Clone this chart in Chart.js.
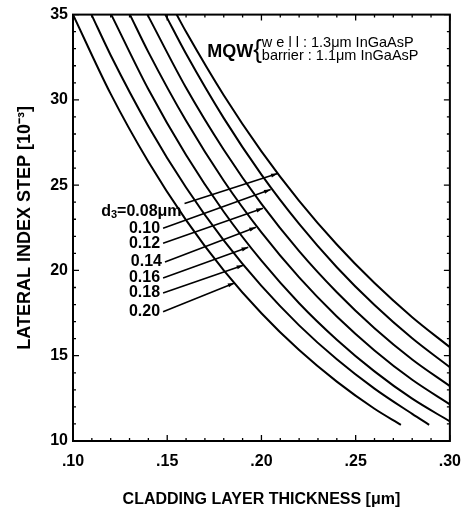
<!DOCTYPE html>
<html>
<head>
<meta charset="utf-8">
<script src="https://cdn.jsdelivr.net/npm/chart.js@4.4.1/dist/chart.umd.min.js"></script>
<style>
  html, body { margin: 0; padding: 0; background: #fff; }
  canvas { display: block; }
</style>
</head>
<body>
<canvas id="chart" width="472" height="510"></canvas>
<script>
// points: [cladding thickness (um), lateral index step (1e-3)]
const d020 = [[0.100, 35], [0.12, 30.35], [0.14, 26.37], [0.16, 22.95], [0.18, 20.01], [0.20, 17.49], [0.22, 15.33], [0.24, 13.48], [0.26, 11.89], [0.274, 10.95]];
const d018 = [[0.1098, 35], [0.12, 32.62], [0.14, 28.46], [0.16, 24.86], [0.18, 21.76], [0.20, 19.09], [0.22, 16.78], [0.24, 14.79], [0.26, 13.07], [0.28, 11.59], [0.289, 10.95]];
const d016 = [[0.1203, 35], [0.14, 30.62], [0.16, 26.77], [0.18, 23.44], [0.20, 20.57], [0.22, 18.08], [0.24, 15.94], [0.26, 14.08], [0.28, 12.48], [0.30, 11.15]];
const d014 = [[0.1302, 35], [0.14, 32.8], [0.16, 28.77], [0.18, 25.26], [0.20, 22.23], [0.22, 19.59], [0.24, 17.30], [0.26, 15.31], [0.28, 13.59], [0.30, 12.15]];
const d012 = [[0.1395, 35], [0.16, 30.71], [0.18, 27.08], [0.20, 23.90], [0.22, 21.13], [0.24, 18.72], [0.26, 16.61], [0.28, 14.78], [0.30, 13.22]];
const d010 = [[0.149, 35], [0.16, 32.7], [0.18, 28.93], [0.20, 25.62], [0.22, 22.73], [0.24, 20.19], [0.26, 17.97], [0.28, 16.02], [0.30, 14.32]];
const d008 = [[0.155, 35], [0.16, 33.99], [0.18, 30.27], [0.20, 26.98], [0.22, 24.08], [0.24, 21.52], [0.26, 19.26], [0.28, 17.26], [0.30, 15.5]];

const curves = [d008, d010, d012, d014, d016, d018, d020];
const labels = ['0.08', '0.10', '0.12', '0.14', '0.16', '0.18', '0.20'];

// leader lines: from the label to the point on its curve
const leaders = [
  [[0.1592, 23.93], [0.2086, 25.68]],
  [[0.1478, 22.47], [0.2049, 24.74]],
  [[0.1478, 21.60], [0.2008, 23.64]],
  [[0.1488, 20.49], [0.1971, 22.53]],
  [[0.1478, 19.56], [0.1930, 21.36]],
  [[0.1478, 18.68], [0.1904, 20.31]],
  [[0.1478, 17.58], [0.1857, 19.27]],
];

const xTicks = [0.10, 0.15, 0.20, 0.25, 0.30];
const yTicks = [10, 15, 20, 25, 30, 35];

const FONT = "'Liberation Sans', Arial, sans-serif";
const toXY = pts => pts.map(p => ({ x: p[0], y: p[1] }));

const datasets = [];
curves.forEach((c, i) => datasets.push({
  label: labels[i],
  data: toXY(c),
  borderColor: '#000',
  borderWidth: 2,
  pointRadius: 0,
  cubicInterpolationMode: 'monotone',
}));
leaders.forEach((l, i) => datasets.push({
  label: 'leader ' + labels[i],
  data: toXY(l),
  borderColor: '#000',
  borderWidth: 1.6,
  pointRadius: 0,
  tension: 0,
}));

const frame = {
  id: 'frame',
  afterDatasetsDraw(chart) {
    const { ctx, chartArea: a, scales: { x, y } } = chart;
    ctx.save();
    ctx.strokeStyle = '#000';
    ctx.fillStyle = '#000';
    ctx.lineWidth = 2;
    ctx.strokeRect(a.left, a.top, a.right - a.left, a.bottom - a.top);

    // inward ticks on all four sides
    ctx.lineWidth = 1.3;
    ctx.beginPath();
    for (let i = 0; i <= 20; i++) {
      const px = x.getPixelForValue(0.10 + i * 0.01);
      const len = i % 5 === 0 ? 6 : 3;
      ctx.moveTo(px, a.bottom); ctx.lineTo(px, a.bottom - len);
      ctx.moveTo(px, a.top); ctx.lineTo(px, a.top + len);
    }
    for (let v = 10; v <= 35; v++) {
      const py = y.getPixelForValue(v);
      const len = v % 5 === 0 ? 6 : 3;
      ctx.moveTo(a.left, py); ctx.lineTo(a.left + len, py);
      ctx.moveTo(a.right, py); ctx.lineTo(a.right - len, py);
    }
    ctx.stroke();

    // small arrow heads where the leaders meet their curves
    leaders.forEach(l => {
      const x0 = x.getPixelForValue(l[0][0]), y0 = y.getPixelForValue(l[0][1]);
      const x1 = x.getPixelForValue(l[1][0]), y1 = y.getPixelForValue(l[1][1]);
      const ang = Math.atan2(y1 - y0, x1 - x0);
      ctx.beginPath();
      ctx.moveTo(x1, y1);
      ctx.lineTo(x1 - 7 * Math.cos(ang - 0.3), y1 - 7 * Math.sin(ang - 0.3));
      ctx.lineTo(x1 - 7 * Math.cos(ang + 0.3), y1 - 7 * Math.sin(ang + 0.3));
      ctx.closePath();
      ctx.fill();
    });

    // curve labels at the start of each leader
    ctx.font = 'bold 16px ' + FONT;
    ctx.textBaseline = 'middle';
    ctx.textAlign = 'right';
    leaders.forEach((l, i) => {
      const px = x.getPixelForValue(l[0][0]) - 3;
      const py = y.getPixelForValue(l[0][1]);
      if (i === 0) {
        const ty = py + 8;
        let rx = px;
        const rest = '=' + labels[i] + '\u03bcm';
        ctx.fillText(rest, rx, ty);
        rx -= ctx.measureText(rest).width;
        ctx.font = 'bold 11px ' + FONT;
        ctx.fillText('3', rx, ty + 4);
        rx -= ctx.measureText('3').width;
        ctx.font = 'bold 16px ' + FONT;
        ctx.fillText('d', rx, ty);
      } else {
        ctx.fillText(labels[i], px, py);
      }
    });

    // MQW note
    const mx = x.getPixelForValue(0.1712);
    const my = y.getPixelForValue(32.9);
    ctx.textAlign = 'left';
    ctx.textBaseline = 'alphabetic';
    ctx.font = 'bold 18px ' + FONT;
    ctx.fillText('MQW', mx, my + 7);
    const bx = mx + ctx.measureText('MQW').width;
    ctx.font = '26px ' + FONT;
    ctx.fillText('{', bx, my + 8);
    const tx = bx + ctx.measureText('{').width;
    ctx.font = '14.5px ' + FONT;
    ctx.fillText('w e l l : 1.3\u03bcm InGaAsP', tx, my - 3);
    ctx.fillText('barrier : 1.1\u03bcm InGaAsP', tx, my + 10);
    ctx.restore();
  }
};

new Chart(document.getElementById('chart'), {
  type: 'line',
  data: { datasets },
  options: {
    responsive: false,
    animation: false,
    layout: { padding: { left: 0, right: 14, top: 13, bottom: 1 } },
    plugins: { legend: { display: false }, tooltip: { enabled: false } },
    scales: {
      x: {
        type: 'linear',
        min: 0.10,
        max: 0.30,
        afterBuildTicks: s => { s.ticks = xTicks.map(v => ({ value: v })); },
        afterFit: s => { s.height = 68; },
        grid: { display: false, drawTicks: false },
        border: { display: false },
        ticks: {
          color: '#000',
          padding: 11,
          font: { family: FONT, size: 16, weight: 'bold' },
          callback: v => v.toFixed(2).replace(/^0/, ''),
        },
        title: {
          display: true,
          text: 'CLADDING LAYER THICKNESS [\u03bcm]',
          color: '#000',
          padding: { top: 0, bottom: 0 },
          font: { family: FONT, size: 16, weight: 'bold' },
        },
      },
      y: {
        type: 'linear',
        min: 10,
        max: 35,
        afterBuildTicks: s => { s.ticks = yTicks.map(v => ({ value: v })); },
        afterFit: s => { s.width = 73; },
        grid: { display: false, drawTicks: false },
        border: { display: false },
        ticks: {
          color: '#000',
          padding: 5,
          font: { family: FONT, size: 16, weight: 'bold' },
        },
        title: {
          display: true,
          text: 'LATERAL INDEX STEP [10\u207b\u00b3]',
          color: '#000',
          padding: { top: 14, bottom: 0 },
          font: { family: FONT, size: 18, weight: 'bold' },
        },
      },
    },
  },
  plugins: [frame],
});
</script>
</body>
</html>
